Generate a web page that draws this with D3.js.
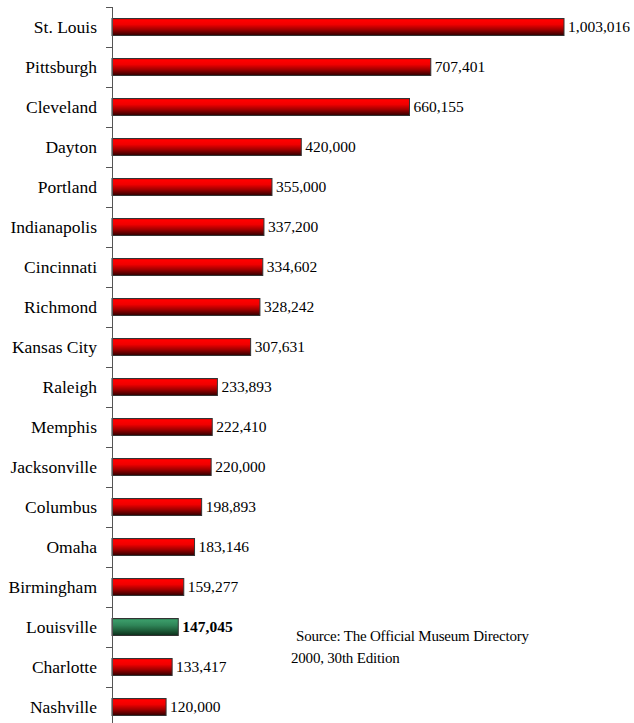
<!DOCTYPE html>
<html>
<head>
<meta charset="utf-8">
<script src="https://cdn.jsdelivr.net/npm/d3@7"></script>
<style>
  html, body { margin: 0; padding: 0; background: #fff; }
  svg { display: block; }
</style>
</head>
<body>
<script>
// Museum attendance by city
const cities = ["St. Louis", "Pittsburgh", "Cleveland", "Dayton", "Portland", "Indianapolis",
  "Cincinnati", "Richmond", "Kansas City", "Raleigh", "Memphis", "Jacksonville",
  "Columbus", "Omaha", "Birmingham", "Louisville", "Charlotte", "Nashville"];
const attendance = [1003016, 707401, 660155, 420000, 355000, 337200,
  334602, 328242, 307631, 233893, 222410, 220000,
  198893, 183146, 159277, 147045, 133417, 120000];
const highlightCity = "Louisville";
const sourceLines = ["Source: The Official Museum Directory", "2000, 30th Edition"];

const W = 634, H = 723;
const serif = "'Liberation Serif', 'Times New Roman', serif";
const data = cities.map((c, i) => ({ city: c, value: attendance[i] }));

const svg = d3.select("body").append("svg").attr("width", W).attr("height", H);

const defs = svg.append("defs");
function gradient(id, stops) {
  const g = defs.append("linearGradient").attr("id", id)
    .attr("x1", 0).attr("y1", 0).attr("x2", 0).attr("y2", 1);
  stops.forEach(([o, c]) => g.append("stop").attr("offset", o).attr("stop-color", c));
}
gradient("redGrad", [[0, "#d00000"], [0.12, "#ff0000"], [0.35, "#f00000"], [0.65, "#a00000"], [1, "#300000"]]);
gradient("greenGrad", [[0, "#2a7a4e"], [0.12, "#3a9a68"], [0.4, "#2f8558"], [0.7, "#1e5e3a"], [1, "#0c2e1a"]]);

const x0 = 112;
const x = d3.scaleLinear().domain([0, 1003016]).range([x0, 564]);
const y = d3.scaleBand().domain(cities).range([7, 727]).paddingInner(0.575).paddingOuter(0.2875);

// bars
svg.append("g").selectAll("rect").data(data).join("rect")
  .attr("x", x(0))
  .attr("y", d => y(d.city))
  .attr("width", d => x(d.value) - x(0))
  .attr("height", y.bandwidth())
  .attr("fill", d => d.city === highlightCity ? "url(#greenGrad)" : "url(#redGrad)")
  .attr("stroke", "#333")
  .attr("stroke-width", 1);

// category axis
const axis = d3.axisLeft(y).tickSize(0).tickPadding(15);
const ag = svg.append("g").attr("transform", `translate(${x0},0)`).call(axis);
ag.attr("font-family", serif);
ag.select(".domain").attr("stroke", "#555").attr("d", `M0.5,7V${H}`);
ag.selectAll(".tick text")
  .attr("font-family", serif)
  .attr("font-size", 17.5)
  .attr("fill", "#000");

// tick marks between categories
const step = y.step();
const bounds = d3.range(cities.length + 1).map(i => 7 + i * step);
svg.append("g").selectAll("line").data(bounds).join("line")
  .attr("x1", x0 - 6).attr("x2", x0)
  .attr("y1", d => d + 0.5).attr("y2", d => d + 0.5)
  .attr("stroke", "#555");

// value labels
const fmt = d3.format(",");
svg.append("g").selectAll("text").data(data).join("text")
  .attr("x", d => x(d.value) + 4)
  .attr("y", d => y(d.city) + y.bandwidth() / 2)
  .attr("dy", "0.35em")
  .attr("font-family", serif)
  .attr("font-size", 15.5)
  .attr("font-weight", d => d.city === highlightCity ? "bold" : "normal")
  .attr("fill", "#000")
  .text(d => fmt(d.value));

// source note
svg.append("g").selectAll("text").data(sourceLines).join("text")
  .attr("x", (d, i) => i === 0 ? 296 : 291)
  .attr("y", (d, i) => 641 + i * 22)
  .attr("font-family", serif)
  .attr("font-size", 15)
  .attr("letter-spacing", "-0.2")
  .attr("fill", "#000")
  .text(d => d);
</script>
</body>
</html>
